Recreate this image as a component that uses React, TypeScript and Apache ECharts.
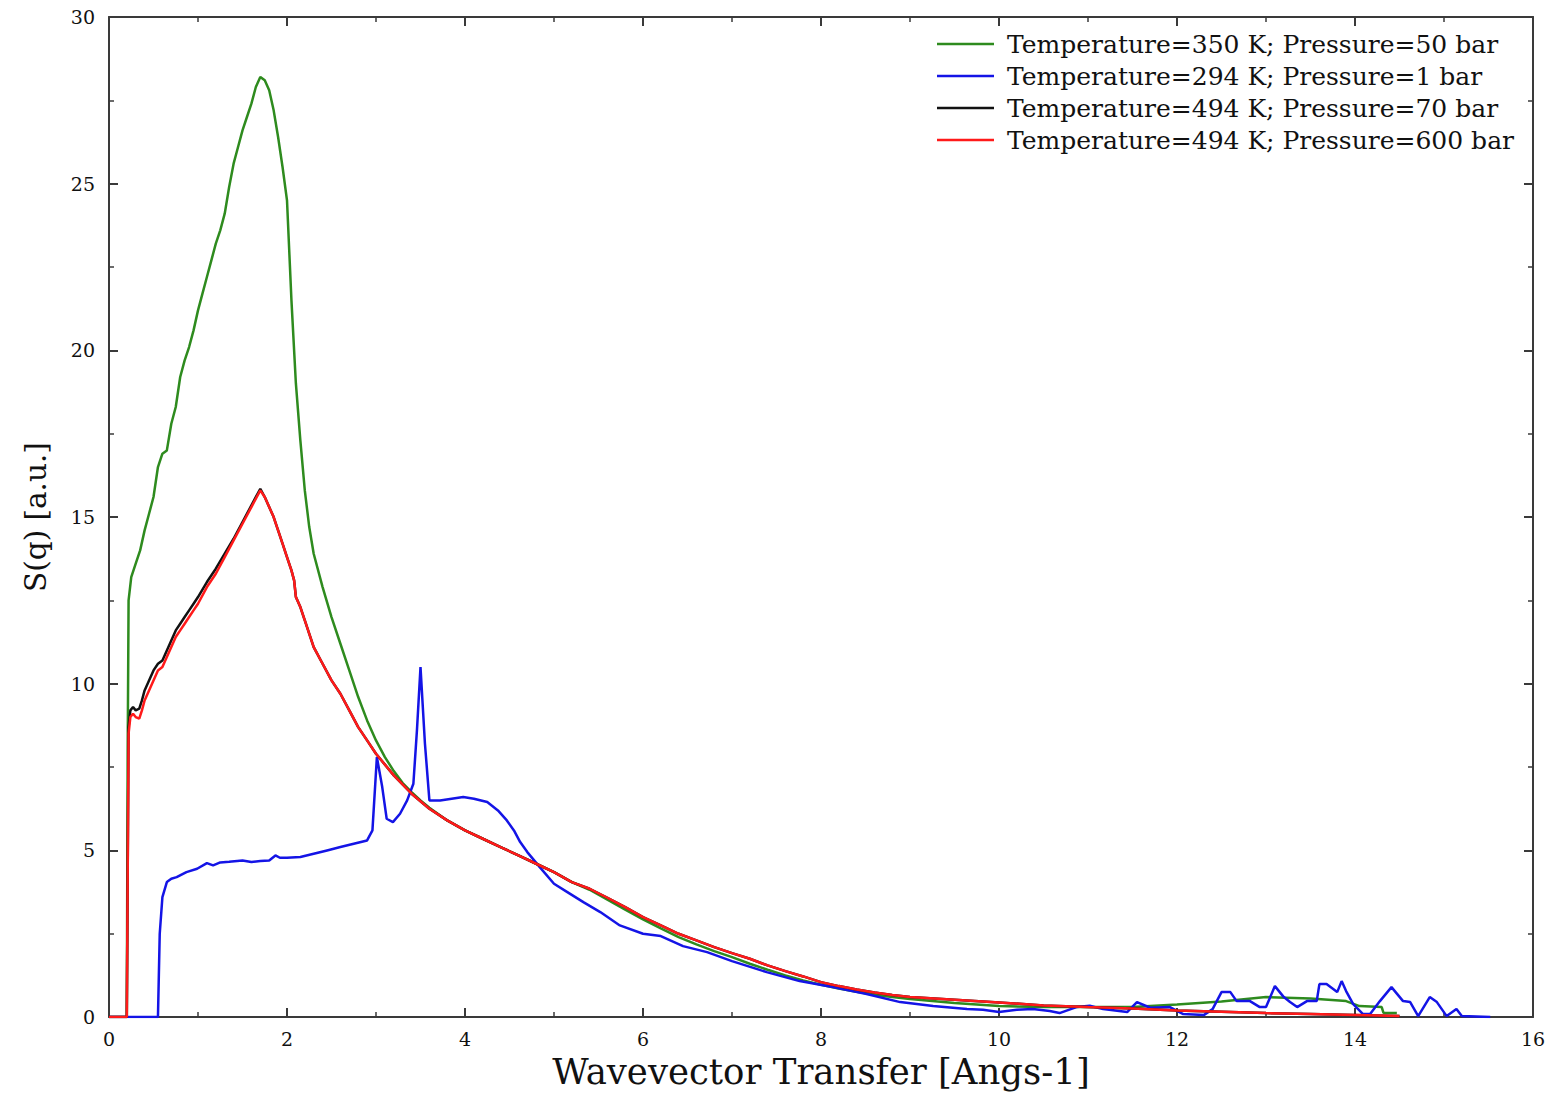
import React, { useEffect, useRef } from "react";
import * as echarts from "echarts";

const seriesNames = [
  "Temperature=350 K; Pressure=50 bar",
  "Temperature=294 K; Pressure=1 bar",
  "Temperature=494 K; Pressure=70 bar",
  "Temperature=494 K; Pressure=600 bar",
];
const seriesColors = ["#2e8b1e", "#1414e6", "#111111", "#ff1a1a"];

const xTicks = [0, 2, 4, 6, 8, 10, 12, 14, 16];
const yTicks = [0, 5, 10, 15, 20, 25, 30];

const green350: number[][] = [
  [0, 0], [0.2, 0], [0.21, 8], [0.22, 12.5], [0.25, 13.2], [0.3, 13.6], [0.35, 14.0], [0.4, 14.6],
  [0.45, 15.1], [0.5, 15.6], [0.55, 16.5], [0.6, 16.9], [0.65, 17.0], [0.7, 17.8], [0.75, 18.3],
  [0.8, 19.2], [0.85, 19.7], [0.9, 20.1], [0.95, 20.6], [1.0, 21.2], [1.05, 21.7], [1.1, 22.2],
  [1.15, 22.7], [1.2, 23.2], [1.25, 23.6], [1.3, 24.1], [1.35, 24.9], [1.4, 25.6], [1.45, 26.1],
  [1.5, 26.6], [1.55, 27.0], [1.6, 27.4], [1.65, 27.9], [1.7, 28.2], [1.75, 28.1], [1.8, 27.8],
  [1.85, 27.2], [1.9, 26.4], [1.95, 25.5], [2.0, 24.5], [2.05, 21.5], [2.1, 19.0], [2.15, 17.3],
  [2.2, 15.8], [2.25, 14.7], [2.3, 13.9], [2.4, 12.9], [2.5, 12.0], [2.6, 11.2], [2.7, 10.4],
  [2.8, 9.6], [2.9, 8.9], [3.0, 8.3], [3.1, 7.8], [3.2, 7.38], [3.3, 7.02], [3.4, 6.75],
  [3.5, 6.5], [3.6, 6.28], [3.8, 5.9], [4.0, 5.6], [4.2, 5.35], [4.4, 5.1], [4.6, 4.85],
  [4.8, 4.6], [5.0, 4.35], [5.2, 4.05], [5.4, 3.82], [5.6, 3.52], [5.8, 3.22], [6.0, 2.93],
  [6.2, 2.66], [6.4, 2.4], [6.6, 2.18], [6.8, 1.98], [7.0, 1.8], [7.2, 1.6], [7.4, 1.42],
  [7.6, 1.25], [7.8, 1.1], [8.0, 0.97], [8.2, 0.86], [8.4, 0.76], [8.6, 0.67], [8.8, 0.6],
  [9.0, 0.54], [9.5, 0.42], [10.0, 0.33], [10.5, 0.3], [11.0, 0.3], [11.5, 0.3], [12.0, 0.38],
  [12.5, 0.47], [13.0, 0.6], [13.5, 0.56], [13.9, 0.48], [14.05, 0.33], [14.3, 0.3],
  [14.32, 0.13], [14.47, 0.12],
];

const blue294: number[][] = [
  [0, 0], [0.55, 0], [0.57, 2.5], [0.6, 3.6], [0.65, 4.05], [0.7, 4.15], [0.76, 4.2], [0.87, 4.35],
  [0.99, 4.45], [1.1, 4.62], [1.17, 4.55], [1.25, 4.64], [1.35, 4.66], [1.5, 4.7], [1.6, 4.65],
  [1.7, 4.68], [1.8, 4.7], [1.87, 4.85], [1.92, 4.78], [2.0, 4.78], [2.15, 4.8], [2.3, 4.9],
  [2.45, 5.0], [2.6, 5.1], [2.75, 5.2], [2.9, 5.3], [2.96, 5.6], [3.01, 7.8], [3.07, 6.9],
  [3.12, 5.95], [3.19, 5.85], [3.27, 6.1], [3.35, 6.5], [3.42, 7.0], [3.46, 8.6], [3.5, 10.5],
  [3.55, 8.2], [3.6, 6.5], [3.72, 6.5], [3.85, 6.55], [3.98, 6.6], [4.1, 6.55], [4.25, 6.45],
  [4.37, 6.2], [4.47, 5.9], [4.55, 5.6], [4.62, 5.25], [4.7, 4.95], [4.84, 4.5], [5.0, 4.0],
  [5.15, 3.75], [5.33, 3.45], [5.52, 3.15], [5.74, 2.75], [6.0, 2.5], [6.2, 2.43], [6.45, 2.13],
  [6.72, 1.95], [7.0, 1.68], [7.39, 1.35], [7.76, 1.08], [8.13, 0.9], [8.5, 0.7], [8.89, 0.45],
  [9.26, 0.33], [9.64, 0.24], [9.82, 0.22], [10.0, 0.15], [10.2, 0.22], [10.38, 0.24],
  [10.57, 0.18], [10.68, 0.12], [10.87, 0.3], [11.02, 0.34], [11.17, 0.24], [11.44, 0.15],
  [11.55, 0.45], [11.7, 0.28], [11.92, 0.3], [12.07, 0.09], [12.3, 0.06], [12.4, 0.24],
  [12.5, 0.75], [12.6, 0.75], [12.67, 0.48], [12.82, 0.48], [12.93, 0.3], [13.0, 0.3],
  [13.1, 0.93], [13.2, 0.6], [13.27, 0.45], [13.35, 0.3], [13.46, 0.48], [13.57, 0.48],
  [13.6, 0.99], [13.68, 0.99], [13.8, 0.75], [13.85, 1.08], [13.9, 0.78], [13.98, 0.39],
  [14.09, 0.09], [14.17, 0.09], [14.28, 0.48], [14.41, 0.9], [14.54, 0.48], [14.62, 0.45],
  [14.71, 0.03], [14.84, 0.6], [14.92, 0.45], [15.03, 0.03], [15.14, 0.24], [15.2, 0.03],
  [15.52, 0],
];

const black494: number[][] = [
  [0, 0], [0.2, 0], [0.22, 8.7], [0.24, 9.2], [0.27, 9.3], [0.3, 9.2], [0.34, 9.25], [0.37, 9.5],
  [0.4, 9.8], [0.45, 10.1], [0.5, 10.4], [0.55, 10.6], [0.6, 10.7], [0.65, 11.0], [0.7, 11.3],
  [0.75, 11.6], [0.8, 11.8], [0.85, 12.0], [0.9, 12.2], [0.95, 12.4], [1.0, 12.6], [1.1, 13.05],
  [1.2, 13.45], [1.3, 13.9], [1.4, 14.35], [1.5, 14.85], [1.6, 15.35], [1.7, 15.85], [1.75, 15.6],
  [1.8, 15.3], [1.85, 15.0], [1.9, 14.6], [1.95, 14.2], [2.0, 13.8], [2.05, 13.4], [2.08, 13.1],
  [2.1, 12.6], [2.15, 12.3], [2.2, 11.9], [2.3, 11.1], [2.4, 10.6], [2.5, 10.1], [2.6, 9.7],
  [2.7, 9.2], [2.8, 8.7], [2.9, 8.3], [3.0, 7.9], [3.2, 7.25], [3.4, 6.7], [3.6, 6.25],
  [3.8, 5.9], [4.0, 5.6], [4.2, 5.35], [4.4, 5.1], [4.6, 4.85], [4.8, 4.6], [5.0, 4.35],
  [5.2, 4.05], [5.4, 3.85], [5.6, 3.58], [5.8, 3.3], [6.0, 3.0], [6.2, 2.75], [6.4, 2.5],
  [6.6, 2.3], [6.8, 2.1], [7.0, 1.92], [7.2, 1.75], [7.4, 1.55], [7.6, 1.38], [7.8, 1.22],
  [8.0, 1.05], [8.2, 0.93], [8.4, 0.83], [8.6, 0.74], [8.8, 0.66], [9.0, 0.6], [9.5, 0.52],
  [10.0, 0.44], [10.5, 0.35], [11.0, 0.3], [11.5, 0.26], [12.0, 0.2], [12.5, 0.16], [13.0, 0.12],
  [13.5, 0.09], [14.0, 0.06], [14.5, 0.03],
];

const red494: number[][] = [
  [0, 0], [0.2, 0], [0.22, 8.5], [0.24, 9.0], [0.27, 9.1], [0.3, 9.0], [0.34, 8.95], [0.37, 9.2],
  [0.4, 9.5], [0.45, 9.8], [0.5, 10.1], [0.55, 10.4], [0.6, 10.5], [0.65, 10.8], [0.7, 11.1],
  [0.75, 11.4], [0.8, 11.6], [0.85, 11.8], [0.9, 12.0], [0.95, 12.2], [1.0, 12.4], [1.1, 12.9],
  [1.2, 13.3], [1.3, 13.8], [1.4, 14.3], [1.5, 14.8], [1.6, 15.3], [1.7, 15.8], [1.75, 15.6],
  [1.8, 15.3], [1.85, 15.0], [1.9, 14.6], [1.95, 14.2], [2.0, 13.8], [2.05, 13.4], [2.08, 13.1],
  [2.1, 12.6], [2.15, 12.3], [2.2, 11.9], [2.3, 11.1], [2.4, 10.6], [2.5, 10.1], [2.6, 9.7],
  [2.7, 9.2], [2.8, 8.7], [2.9, 8.3], [3.0, 7.9], [3.2, 7.25], [3.4, 6.7], [3.6, 6.25],
  [3.8, 5.9], [4.0, 5.6], [4.2, 5.35], [4.4, 5.1], [4.6, 4.85], [4.8, 4.6], [5.0, 4.35],
  [5.2, 4.05], [5.4, 3.85], [5.6, 3.58], [5.8, 3.3], [6.0, 3.0], [6.2, 2.75], [6.4, 2.5],
  [6.6, 2.3], [6.8, 2.1], [7.0, 1.92], [7.2, 1.75], [7.4, 1.55], [7.6, 1.38], [7.8, 1.22],
  [8.0, 1.05], [8.2, 0.93], [8.4, 0.83], [8.6, 0.74], [8.8, 0.66], [9.0, 0.6], [9.5, 0.52],
  [10.0, 0.44], [10.5, 0.35], [11.0, 0.3], [11.5, 0.26], [12.0, 0.2], [12.5, 0.16], [13.0, 0.12],
  [13.5, 0.09], [14.0, 0.06], [14.5, 0.03],
];

const seriesData = [green350, blue294, black494, red494];

const FONT = "'DejaVu Serif', 'Liberation Serif', serif";
const AXIS_COLOR = "#3a3a3a";

export default function App() {
  const ref = useRef<HTMLDivElement>(null);
  useEffect(() => {
    if (!ref.current) return;
    const chart = echarts.init(ref.current, undefined, { renderer: "svg" });
    const xBase = {
      type: "value" as const,
      min: xTicks[0],
      max: xTicks[xTicks.length - 1],
      interval: xTicks[1] - xTicks[0],
      axisLine: { show: true, onZero: false, lineStyle: { color: AXIS_COLOR, width: 2 } },
      axisTick: { show: true, inside: true, length: 9, lineStyle: { color: AXIS_COLOR, width: 2 } },
      minorTick: { show: true, splitNumber: 2, length: 5, lineStyle: { color: AXIS_COLOR, width: 1.5 } },
      splitLine: { show: false },
      minorSplitLine: { show: false },
    };
    const yBase = {
      type: "value" as const,
      min: yTicks[0],
      max: yTicks[yTicks.length - 1],
      interval: yTicks[1] - yTicks[0],
      axisLine: { show: true, onZero: false, lineStyle: { color: AXIS_COLOR, width: 2 } },
      axisTick: { show: true, inside: true, length: 9, lineStyle: { color: AXIS_COLOR, width: 2 } },
      minorTick: { show: true, splitNumber: 2, length: 5, lineStyle: { color: AXIS_COLOR, width: 1.5 } },
      splitLine: { show: false },
      minorSplitLine: { show: false },
    };
    chart.setOption({
      animation: false,
      backgroundColor: "#ffffff",
      grid: { left: 109, top: 17, right: 18, bottom: 76, containLabel: false },
      legend: {
        orient: "vertical",
        left: 932,
        top: 23,
        icon: "rect",
        itemWidth: 57,
        itemHeight: 2.5,
        itemGap: 0,
        data: seriesNames,
        textStyle: {
          fontFamily: FONT,
          fontSize: 25,
          color: "#111",
          lineHeight: 32,
          padding: [0, 0, 0, 8],
        },
      },
      xAxis: [
        {
          ...xBase,
          position: "bottom",
          name: "Wavevector Transfer [Angs-1]",
          nameLocation: "middle",
          nameGap: 35,
          nameTextStyle: { fontFamily: FONT, fontSize: 35.5, color: "#111" },
          axisLabel: { show: true, margin: 12, fontFamily: FONT, fontSize: 19, color: "#111" },
        },
        {
          ...xBase,
          position: "top",
          axisLabel: { show: false },
        },
      ],
      yAxis: [
        {
          ...yBase,
          position: "left",
          name: "S(q) [a.u.]",
          nameLocation: "middle",
          nameGap: 58,
          nameTextStyle: { fontFamily: FONT, fontSize: 29.5, color: "#111" },
          axisLabel: { show: true, margin: 14, fontFamily: FONT, fontSize: 19, color: "#111" },
        },
        {
          ...yBase,
          position: "right",
          axisLabel: { show: false },
        },
      ],
      series: seriesNames.map((name, i) => ({
        name,
        type: "line",
        xAxisIndex: 0,
        yAxisIndex: 0,
        data: seriesData[i],
        showSymbol: false,
        symbol: "none",
        color: seriesColors[i],
        lineStyle: { color: seriesColors[i], width: 2.5 },
        z: 2 + i,
      })),
    });
    return () => chart.dispose();
  }, []);
  return (
    <div
      ref={ref}
      style={{ position: "fixed", left: 0, top: 0, width: 1551, height: 1094, background: "#fff" }}
    />
  );
}
